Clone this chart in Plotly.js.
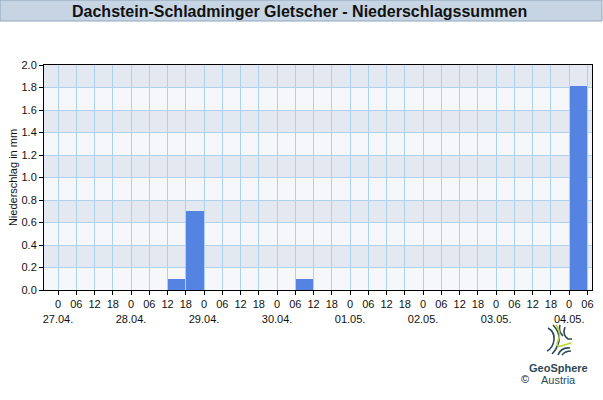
<!DOCTYPE html>
<html><head><meta charset="utf-8">
<script src="https://cdn.plot.ly/plotly-3.0.1.min.js"></script>
<style>html,body{margin:0;padding:0;background:#fff}#chart{width:603px;height:400px}</style>
</head><body><div id="chart"></div>
<script>
// Six-hour precipitation sums, 27.04. 00 h to 04.05. 06 h
const dayLabels = ["27.04.","28.04.","29.04.","30.04.","01.05.","02.05.","03.05.","04.05."];
const hourLabels = ["0","06","12","18"];
const intervalHours = 6;
// value for each 6-h interval starting at 27.04. 00 h
const precip = [0,0,0,0, 0,0,0.1,0.7, 0,0,0,0, 0,0.1,0,0, 0,0,0,0, 0,0,0,0, 0,0,0,0, 1.81];
const yTicks = [0,0.2,0.4,0.6,0.8,1.0,1.2,1.4,1.6,1.8,2.0];

const starts = precip.map((v,i)=>i*intervalHours);
const centers = starts.map(s=>s+intervalHours/2);

const tickvals=[], ticktext=[];
const nTicks = precip.length+1;
for(let i=0;i<nTicks;i++){
  const h = hourLabels[i%4];
  tickvals.push(i*intervalHours);
  ticktext.push(i%4===0 ? h+"<br>"+dayLabels[i/4] : h+"<br> ");
}

const shapes=[];
for(let k=0;k<yTicks.length-1;k++){
  if(k%2===1){
    shapes.push({type:'rect',xref:'paper',yref:'y',x0:0,x1:1,y0:yTicks[k],y1:yTicks[k+1],
      fillcolor:'#e4e9f1',line:{width:0},layer:'below'});
  }
}
// title bar
shapes.push({type:'rect',xref:'paper',yref:'paper',xsizemode:'pixel',ysizemode:'pixel',
  xanchor:0,yanchor:1,x0:-44,x1:558,y0:65,y1:44,fillcolor:'#c6d4e3',line:{color:'#8ea6be',width:1}});
// logo (approximate)
const lg={xref:'paper',yref:'paper',xsizemode:'pixel',ysizemode:'pixel',xanchor:(557-44)/548,yanchor:(290-340)/225,type:'path'};
const dark='#2c4a56';
const logoPaths=[
 ['M -14 1 A 2.5 2.5 0 1 1 -9 1 A 2.5 2.5 0 1 1 -14 1', dark],
 ['M -10 7 A 6 6 0 1 1 -10 -5', dark],
 ['M -9 12 Q -2 8 -3 0 Q -4 -8 -10 -11', dark],
 ['M -4 15 Q 3 8 2 -1 Q 0 -9 -5 -14', dark],
 ['M 3 15 Q 1 9 6 4', dark],
 ['M 8 13 Q 5 5 11 1 L 15 1', dark],
 ['M -1 15 Q 5 7 1 -1 Q -2 -7 4 -6 L 14 -3', '#b5d334'],
 ['M 1 -15 Q 4 -7 13 -8', dark],
 ['M 5 -15 Q 8 -11 14 -11', dark]
];
logoPaths.forEach(p=>shapes.push(Object.assign({},lg,{path:p[0],line:{color:p[1],width:1.6}})));

const trace={type:'bar',x:centers,y:precip,width:intervalHours*0.95,
  marker:{color:'#5483e2',line:{width:0}},hoverinfo:'skip'};

const font={family:'"Liberation Sans", Arial, sans-serif',size:11,color:'#111'};
const layout={
  width:603,height:400,margin:{l:44,r:11,t:65,b:110},
  paper_bgcolor:'#ffffff',plot_bgcolor:'#f5f7fa',font:font,showlegend:false,bargap:0,
  xaxis:{range:[-4.6,175.5],tickmode:'array',tickvals:tickvals,ticktext:ticktext,
    showgrid:true,gridcolor:'#acd2ef',gridwidth:1,ticks:'outside',ticklen:4,tickcolor:'#000',
    showline:true,linecolor:'#000',linewidth:1,mirror:true,zeroline:false,tickangle:0,
    tickfont:font,fixedrange:true},
  yaxis:{range:[0,2.0],tickmode:'array',tickvals:yTicks,ticktext:yTicks.map(v=>v.toFixed(1)),
    showgrid:true,gridcolor:'#acd2ef',gridwidth:1,ticks:'outside',ticklen:4,tickcolor:'#000',
    showline:true,linecolor:'#000',linewidth:1,mirror:true,zeroline:false,
    title:{text:'Niederschlag in mm',font:{family:font.family,size:11,color:'#111'},standoff:1},
    tickfont:font,fixedrange:true},
  shapes:shapes,
  annotations:[
    {text:'<b>Dachstein-Schladminger Gletscher - Niederschlagssummen</b>',xref:'paper',yref:'paper',
     x:0.466,y:1,yshift:54,showarrow:false,xanchor:'center',yanchor:'middle',
     font:{family:font.family,size:16,color:'#111'}},
    {text:'<b>GeoSphere</b>',xref:'paper',yref:'paper',x:(558-44)/548,y:(290-368)/225,showarrow:false,
     xanchor:'center',yanchor:'middle',font:{family:font.family,size:11,color:dark}},
    {text:'Austria',xref:'paper',yref:'paper',x:(558-44)/548,y:(290-380)/225,showarrow:false,
     xanchor:'center',yanchor:'middle',font:{family:font.family,size:11,color:dark}},
    {text:'©',xref:'paper',yref:'paper',x:(525-44)/548,y:(290-379)/225,showarrow:false,
     xanchor:'center',yanchor:'middle',font:{family:font.family,size:11,color:'#111'}}
  ]
};
Plotly.newPlot('chart',[trace],layout,{displayModeBar:false,staticPlot:true});
</script></body></html>
